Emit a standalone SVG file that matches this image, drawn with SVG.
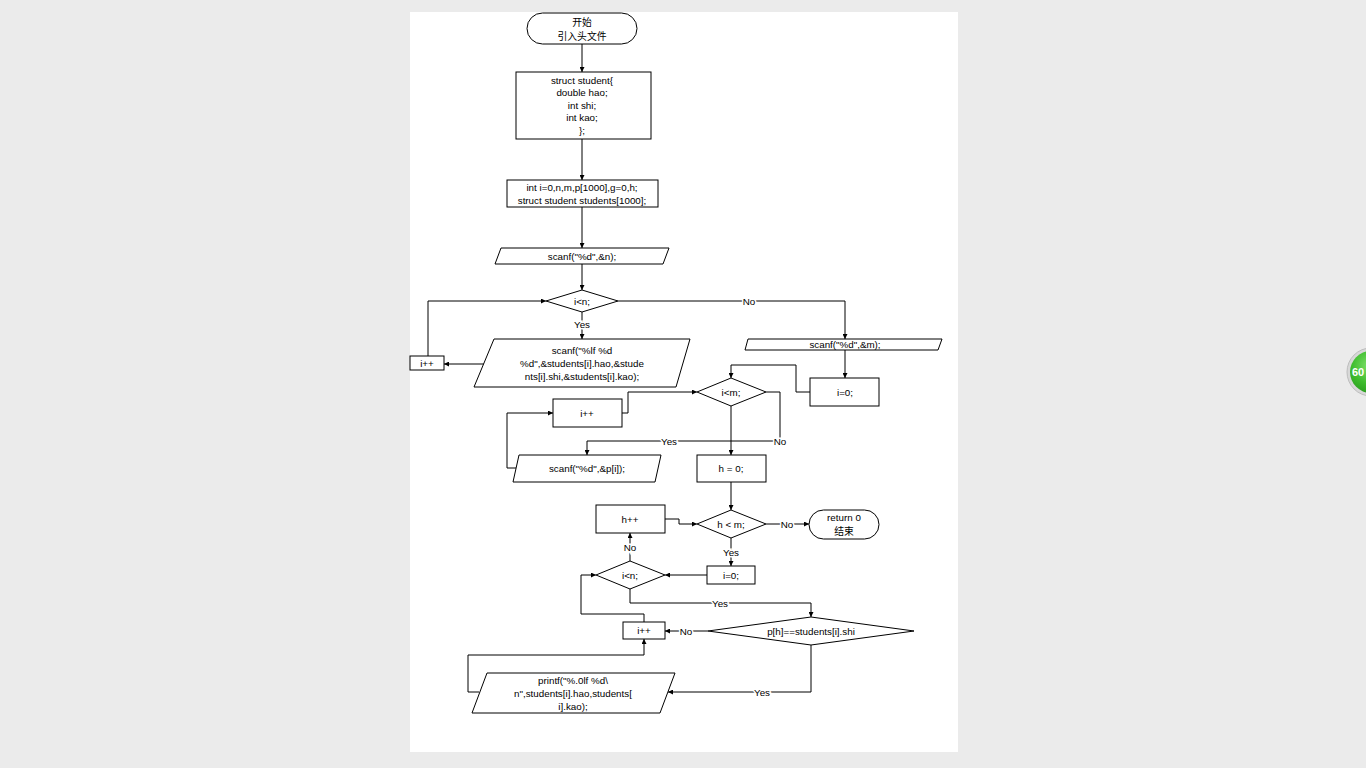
<svg xmlns="http://www.w3.org/2000/svg" width="1366" height="768" viewBox="0 0 1366 768">
<defs>
<marker id="ah" viewBox="0 0 6 6" refX="6" refY="3" markerWidth="5" markerHeight="5" markerUnits="userSpaceOnUse" orient="auto">
<path d="M0,0 L6,3 L0,6 z" fill="#000"/>
</marker>
<radialGradient id="gg" cx="0.45" cy="0.35" r="0.7">
<stop offset="0" stop-color="#7ee06a"/>
<stop offset="0.6" stop-color="#3dbb2c"/>
<stop offset="1" stop-color="#2a9a1e"/>
</radialGradient>
</defs>
<style>
.s{fill:#fff;stroke:#000;stroke-width:1}
.t{font-family:"Liberation Sans","Noto Sans CJK SC",sans-serif;font-size:9.8px;fill:#000;text-anchor:middle;dominant-baseline:central}
.c{fill:none;stroke:#000;stroke-width:1}
.l{font-family:"Liberation Sans","Noto Sans CJK SC",sans-serif;font-size:9.8px;fill:#000;text-anchor:middle;dominant-baseline:central;stroke:#fff;stroke-width:3;paint-order:stroke}
</style>
<rect width="1366" height="768" fill="#ebebeb"/>
<rect x="410" y="12" width="548" height="740" fill="#fff"/>

<g id="connectors">
<path class="c" d="M582,44 V72" marker-end="url(#ah)"/>
<path class="c" d="M582,139 V180" marker-end="url(#ah)"/>
<path class="c" d="M582,207 V248" marker-end="url(#ah)"/>
<path class="c" d="M582,264 V290" marker-end="url(#ah)"/>
<path class="c" d="M582,312 V339" marker-end="url(#ah)"/>
<path class="c" d="M484,364 H444" marker-end="url(#ah)"/>
<path class="c" d="M428,356 V301 H546" marker-end="url(#ah)"/>
<path class="c" d="M618,301 H845 V339" marker-end="url(#ah)"/>
<path class="c" d="M845,350 V378" marker-end="url(#ah)"/>
<path class="c" d="M810,392 H796 V365 H731 V378" marker-end="url(#ah)"/>
<path class="c" d="M731,406 V441 H587 V455" marker-end="url(#ah)"/>
<path class="c" d="M766,392 H780 V441 H731 V455" marker-end="url(#ah)"/>
<path class="c" d="M516,468 H507 V413 H553" marker-end="url(#ah)"/>
<path class="c" d="M622,413 H628 V392 H697" marker-end="url(#ah)"/>
<path class="c" d="M731,482 V510" marker-end="url(#ah)"/>
<path class="c" d="M766,524 H809" marker-end="url(#ah)"/>
<path class="c" d="M665,519 H679 V524 H697" marker-end="url(#ah)"/>
<path class="c" d="M731,538 V566" marker-end="url(#ah)"/>
<path class="c" d="M707,575 H665" marker-end="url(#ah)"/>
<path class="c" d="M630,561 V533" marker-end="url(#ah)"/>
<path class="c" d="M630,589 V603 H811 V617" marker-end="url(#ah)"/>
<path class="c" d="M708,631 H665" marker-end="url(#ah)"/>
<path class="c" d="M644,622 V614 H581 V575 H596" marker-end="url(#ah)"/>
<path class="c" d="M811,645 V692 H668" marker-end="url(#ah)"/>
<path class="c" d="M479,692 H468 V655 H644 V639" marker-end="url(#ah)"/>
<text class="l" x="582" y="324">Yes</text>
<text class="l" x="749" y="301">No</text>
<text class="l" x="669" y="441">Yes</text>
<text class="l" x="780" y="441">No</text>
<text class="l" x="787" y="524">No</text>
<text class="l" x="731" y="552">Yes</text>
<text class="l" x="630" y="547">No</text>
<text class="l" x="720" y="603">Yes</text>
<text class="l" x="686" y="631">No</text>
<text class="l" x="762" y="692">Yes</text>
</g>

<g id="start">
<rect class="s" x="527" y="13" width="110" height="31" rx="15.5"/>
<text class="t" x="582" y="22">开始</text>
<text class="t" x="582" y="36">引入头文件</text>
</g>
<g id="struct">
<rect class="s" x="516" y="72" width="135" height="67"/>
<text class="t" x="582" y="80">struct student{</text>
<text class="t" x="582" y="92.5">double hao;</text>
<text class="t" x="582" y="105">int shi;</text>
<text class="t" x="582" y="117.5">int kao;</text>
<text class="t" x="582" y="130">};</text>
</g>
<g id="decl">
<rect class="s" x="507" y="180" width="151" height="27"/>
<text class="t" x="582" y="187">int i=0,n,m,p[1000],g=0,h;</text>
<text class="t" x="582" y="200">struct student students[1000];</text>
</g>
<g id="scanfn">
<polygon class="s" points="501,248 669,248 663,264 495,264"/>
<text class="t" x="582" y="256">scanf("%d",&amp;n);</text>
</g>
<g id="cond1">
<polygon class="s" points="546,301 582,290 618,301 582,312"/>
<text class="t" x="582" y="301">i&lt;n;</text>
</g>
<g id="scanfstu">
<polygon class="s" points="494,339 690,339 676,387 474,387"/>
<text class="t" x="582" y="350">scanf("%lf %d</text>
<text class="t" x="582" y="363">%d",&amp;students[i].hao,&amp;stude</text>
<text class="t" x="582" y="376">nts[i].shi,&amp;students[i].kao);</text>
</g>
<g id="inc1">
<rect class="s" x="410" y="356" width="34" height="14"/>
<text class="t" x="427" y="363">i++</text>
</g>
<g id="scanfm">
<polygon class="s" points="748,339 942,339 938,350 745,350"/>
<text class="t" x="845" y="344.5">scanf("%d",&amp;m);</text>
</g>
<g id="init1">
<rect class="s" x="810" y="378" width="69" height="28"/>
<text class="t" x="845" y="392">i=0;</text>
</g>
<g id="cond2">
<polygon class="s" points="697,392 731,378 766,392 731,406"/>
<text class="t" x="731" y="392">i&lt;m;</text>
</g>
<g id="inc2">
<rect class="s" x="553" y="399" width="69" height="28"/>
<text class="t" x="587" y="413">i++</text>
</g>
<g id="scanfp">
<polygon class="s" points="519,455 661,455 655,482 513,482"/>
<text class="t" x="587" y="468">scanf("%d",&amp;p[i]);</text>
</g>
<g id="h0">
<rect class="s" x="697" y="455" width="69" height="27"/>
<text class="t" x="731" y="468">h = 0;</text>
</g>
<g id="cond3">
<polygon class="s" points="697,524 731,510 766,524 731,538"/>
<text class="t" x="731" y="524">h &lt; m;</text>
</g>
<g id="end">
<rect class="s" x="809" y="510" width="70" height="29" rx="14.5"/>
<text class="t" x="844" y="517">return 0</text>
<text class="t" x="844" y="531">结束</text>
</g>
<g id="hinc">
<rect class="s" x="596" y="505" width="69" height="28"/>
<text class="t" x="630" y="519">h++</text>
</g>
<g id="init2">
<rect class="s" x="707" y="566" width="48" height="18"/>
<text class="t" x="731" y="575">i=0;</text>
</g>
<g id="cond4">
<polygon class="s" points="596,575 630,561 665,575 630,589"/>
<text class="t" x="630" y="575">i&lt;n;</text>
</g>
<g id="cond5">
<polygon class="s" points="708,631 811,617 914,631 811,645"/>
<text class="t" x="811" y="631">p[h]==students[i].shi</text>
</g>
<g id="inc3">
<rect class="s" x="623" y="622" width="42" height="17"/>
<text class="t" x="644" y="630.5">i++</text>
</g>
<g id="printf">
<polygon class="s" points="487,673 675,673 660,713 472,713"/>
<text class="t" x="573" y="680">printf("%.0lf %d\</text>
<text class="t" x="573" y="693">n",students[i].hao,students[</text>
<text class="t" x="573" y="706">i].kao);</text>
</g>

<g id="badge">
<circle cx="1371" cy="372" r="24" fill="#d8d8d8" stroke="#bdbdbd" stroke-width="1"/>
<circle cx="1371" cy="372" r="21" fill="url(#gg)"/>
<text x="1352" y="376" font-family="Liberation Sans, sans-serif" font-size="11" font-weight="bold" fill="#fff">60</text>
</g>
</svg>
